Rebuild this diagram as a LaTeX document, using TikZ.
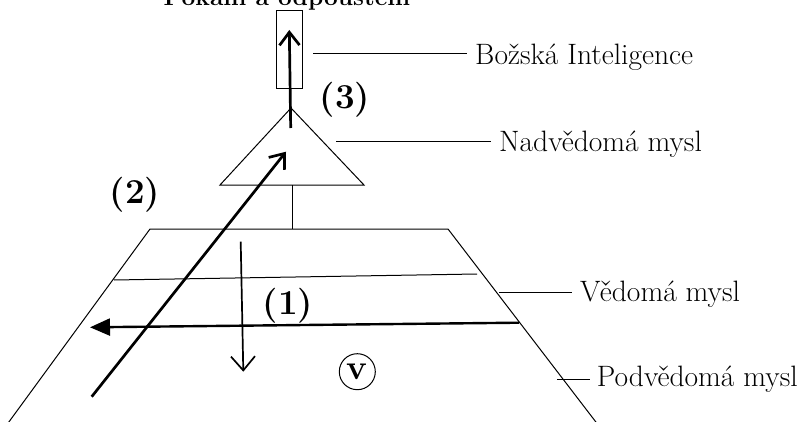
\documentclass[tikz,border=0pt]{standalone}
\usepackage{fontspec}
\usetikzlibrary{arrows.meta}

\newcommand\lblfont{\fontsize{29.5}{35}\selectfont}
\newcommand\numfont{\fontsize{35}{40}\selectfont\bfseries}
\newcommand\titlefont{\fontsize{24.5}{29}\selectfont\bfseries}

\tikzset{
    thinline/.style={line width=1pt},
    veearrow/.style={line width=2.7pt, -{Straight Barb[length=13pt,width=20pt]}},
    downarrow/.style={line width=1.7pt, -{Straight Barb[length=14pt,width=24pt]}},
    fillarrow/.style={line width=2.4pt, -{Triangle[length=20pt,width=17pt]}},
    lbl/.style={inner sep=0pt, font=\lblfont},
    num/.style={inner sep=0pt, font=\numfont},
}

\begin{document}
\begin{tikzpicture}[x=1pt, y=-1pt]
    \useasboundingbox (0,0) rectangle (802,422);
    \clip (0,0) rectangle (802,422);
    % pyramid
    \coordinate (tl) at (150,229);
    \coordinate (tr) at (448,229);
    \coordinate (bl) at (3,430);
    \coordinate (br) at (602,430);
    \draw [thinline] (bl) -- (tl) -- (tr) -- (br);
    \coordinate (ml) at (114,280);
    \coordinate (mr) at (477,274);
    \draw [thinline] (ml) -- (mr);
    % triangle and box
    \coordinate (apex) at (291,108);
    \coordinate (tril) at (220,185);
    \coordinate (trir) at (364,185);
    \draw [thinline] (tril) -- (apex) -- (trir) -- cycle;
    \coordinate (stemtop) at (292.5,185);
    \draw [thinline] (stemtop) -- (stemtop |- tl);
    \node [draw, thinline, minimum width=26pt, minimum height=78pt, inner sep=0pt] (topbox) at (289,50) {};
    \node [anchor=base, font=\titlefont, inner sep=0pt] (title) at (287,5.5) {Pokání a odpouštění};
    % arrows
    \coordinate (a1s) at (519,322.7);
    \coordinate (a1e) at (90,327.3);
    \draw [fillarrow] (a1s) -- (a1e);
    \coordinate (a2s) at (91.7,396.7);
    \coordinate (a2e) at (286,151.7);
    \draw [veearrow] (a2s) -- (a2e);
    \coordinate (a3s) at (290.7,128);
    \coordinate (a3e) at (289.3,30);
    \draw [veearrow] (a3s) -- (a3e);
    \coordinate (dns) at (240.7,241.7);
    \coordinate (dne) at (243.3,371.7);
    \draw [downarrow] (dns) -- (dne);
    \node [num] (n1) at (288,306) {(1)};
    \node [num] (n2) at (135,195) {(2)};
    \node [num] (n3) at (345,100) {(3)};
    \node [draw, circle, thinline, minimum size=36pt, inner sep=0pt, font=\numfont] (v) at (357.3,371.7) {v};
    % labels
    \node [lbl, anchor=base west] (bozska) at (475,65) {Božská Inteligence};
    \node [lbl, anchor=base west] (nadv) at (499,151.7) {Nadvědomá mysl};
    \node [lbl, anchor=base west] (vedo) at (580,301.7) {Vědomá mysl};
    \node [lbl, anchor=base west] (podv) at (596.7,386.7) {Podvědomá mysl};
    \coordinate (bi) at (313,53.3);
    \coordinate (nm) at (336,141.7);
    \coordinate (vm) at (499,292.7);
    \coordinate (pm) at (557,379.3);
    \draw [thinline, shorten >=8pt] (bi) -- (bi -| bozska.west);
    \draw [thinline, shorten >=8pt] (nm) -- (nm -| nadv.west);
    \draw [thinline, shorten >=8pt] (vm) -- (vm -| vedo.west);
    \draw [thinline, shorten >=7pt] (pm) -- (pm -| podv.west);
\end{tikzpicture}
\end{document}
